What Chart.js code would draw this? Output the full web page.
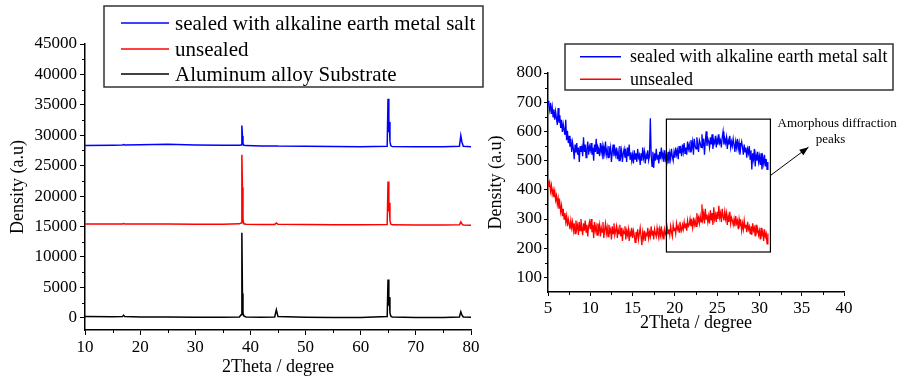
<!DOCTYPE html>
<html><head><meta charset="utf-8">
<script src="https://cdn.jsdelivr.net/npm/chart.js@4.4.1/dist/chart.umd.min.js"></script>
<style>
html,body{margin:0;padding:0;background:#fff;width:902px;height:382px;overflow:hidden}
#c1{position:absolute;left:0;top:0}
#c2{position:absolute;left:485px;top:0}
</style></head><body>
<canvas id="c1" width="485" height="382"></canvas>
<canvas id="c2" width="417" height="382"></canvas>
<script>
// ---------- DATA ----------
const leftLabels = ['sealed with alkaline earth metal salt', 'unsealed', 'Aluminum alloy Substrate'];
const leftX = [10, 15, 16.8, 17, 17.2, 20, 25, 30, 35, 38.0, 38.3, 38.45, 38.55, 38.65, 38.8, 39.2, 42, 44.4, 44.7, 45.0, 50, 55, 60, 64.8, 64.95, 65.1, 65.2, 65.3, 65.45, 65.7, 70, 75, 77.9, 78.15, 78.35, 78.6, 80];
const leftSealed = [28300, 28350, 28400, 28460, 28400, 28450, 28520, 28420, 28350, 28350, 28400, 31600, 29900, 28700, 28350, 28300, 28250, 28220, 28250, 28220, 28180, 28150, 28130, 28200, 36000, 30500, 32200, 29000, 28300, 28150, 28130, 28130, 28200, 29950, 28900, 28200, 28130];
const leftUnsealed = [15440, 15430, 15420, 15480, 15420, 15410, 15420, 15390, 15360, 15450, 15600, 26800, 21400, 16200, 15450, 15380, 15340, 15350, 15600, 15360, 15320, 15300, 15280, 15350, 22400, 17500, 18900, 16000, 15400, 15280, 15260, 15250, 15300, 15770, 15450, 15250, 15220];
const leftSubstrate = [220, 180, 200, 440, 200, 150, 120, 110, 100, 150, 500, 14000, 4000, 800, 300, 150, 100, 150, 1320, 200, 100, 60, 50, 200, 6300, 2000, 3400, 800, 300, 150, 60, 60, 150, 990, 500, 150, 100];
const leftXTicks = [10, 20, 30, 40, 50, 60, 70, 80];
const leftXMinor = [15, 25, 35, 45, 55, 65, 75];
const leftYTicks = [0, 5000, 10000, 15000, 20000, 25000, 30000, 35000, 40000, 45000];
const leftYMinor = [2500, 7500, 12500, 17500, 22500, 27500, 32500, 37500, 42500];

const rightLabels = ['sealed with alkaline earth metal salt', 'unsealed'];
const rightStart = 5.0, rightStep = 0.1;   // sampling of the 2Theta axis
const rightSealed = [
  705, 690, 672, 698, 660, 684, 650, 676, 640, 668,
  645, 622, 680, 630, 655, 612, 640, 598, 625, 605,
  588, 640, 570, 602, 560, 585, 548, 575, 530, 562,
  540, 505, 555, 528, 560, 520, 545, 495, 550, 530,
  545, 515, 580, 530, 555, 510, 540, 565, 520, 548,
  535, 560, 520, 545, 500, 555, 530, 575, 525, 548,
  540, 515, 560, 530, 550, 505, 545, 525, 565, 520,
  538, 510, 550, 525, 545, 495, 530, 555, 515, 540,
  520, 545, 505, 530, 500, 550, 515, 535, 495, 525,
  540, 510, 530, 495, 545, 515, 555, 505, 528, 500,
  520, 490, 535, 505, 525, 495, 540, 510, 520, 485,
  525, 500, 545, 510, 530, 490, 520, 505, 535, 500,
  515, 645, 520, 480, 530, 475, 525, 500, 540, 505,
  520, 490, 530, 505, 545, 510, 525, 495, 535, 505,
  520, 500, 530, 490, 525, 505, 540, 515, 500, 530,
  510, 545, 520, 535, 505, 550, 525, 540, 515, 555,
  530, 560, 525, 545, 520, 565, 540, 555, 530, 570,
  545, 565, 520, 575, 550, 540, 580, 555, 530, 570,
  560, 545, 590, 555, 575, 520, 565, 600, 550, 575,
  565, 545, 580, 555, 590, 540, 570, 560, 585, 545,
  575, 555, 590, 560, 570, 545, 580, 600, 555, 575,
  560, 580, 540, 570, 555, 585, 545, 565, 550, 575,
  555, 530, 565, 545, 575, 540, 560, 520, 550, 565,
  545, 520, 555, 530, 545, 510, 540, 525, 550, 505,
  535, 470, 525, 505, 540, 480, 520, 500, 530, 495,
  515, 485, 525, 470, 510, 490, 520, 480, 505, 470,
  495
];
const rightUnsealed = [
  430, 410, 425, 395, 415, 385, 400, 375, 395, 365,
  380, 350, 370, 335, 355, 325, 345, 310, 335, 300,
  320, 290, 310, 275, 300, 285, 265, 295, 270, 290,
  260, 285, 250, 295, 265, 280, 245, 290, 260, 300,
  270, 245, 285, 260, 295, 255, 280, 240, 275, 290,
  265, 300, 255, 280, 235, 290, 260, 275, 245, 285,
  260, 280, 240, 270, 255, 290, 235, 265, 285, 250,
  270, 240, 280, 255, 265, 230, 275, 250, 285, 245,
  260, 275, 235, 265, 250, 280, 240, 270, 225, 260,
  250, 275, 230, 260, 245, 265, 225, 255, 240, 270,
  235, 260, 245, 220, 255, 240, 265, 230, 250, 270,
  240, 210, 255, 235, 260, 225, 250, 245, 270, 235,
  255, 240, 275, 245, 260, 230, 265, 250, 240, 270,
  250, 235, 265, 245, 275, 240, 255, 230, 265, 250,
  240, 270, 250, 265, 245, 275, 255, 240, 280, 260,
  270, 250, 285, 265, 275, 255, 290, 270, 260, 280,
  265, 290, 270, 285, 260, 295, 275, 280, 300, 275,
  290, 270, 305, 280, 295, 275, 320, 290, 305, 285,
  310, 290, 350, 300, 320, 285, 335, 300, 315, 290,
  310, 285, 330, 295, 320, 280, 340, 300, 315, 290,
  325, 300, 345, 305, 320, 290, 335, 310, 295, 325,
  300, 320, 280, 310, 290, 325, 285, 305, 295, 280,
  300, 275, 310, 285, 295, 265, 300, 280, 290, 260,
  285, 265, 295, 270, 280, 255, 290, 265, 275, 250,
  275, 245, 285, 260, 270, 240, 280, 255, 265, 245,
  260, 230, 270, 245, 255, 225, 265, 240, 250, 215,
  250
];
const rightXTicks = [5, 10, 15, 20, 25, 30, 35, 40];
const rightXMinor = [7.5, 12.5, 17.5, 22.5, 27.5, 32.5, 37.5];
const rightYTicks = [100, 200, 300, 400, 500, 600, 700, 800];
const rightYMinor = [150, 250, 350, 450, 550, 650, 750];
const annotationLines = ['Amorphous diffraction', 'peaks'];

// ---------- RENDER ----------
const FAMILY = '"Liberation Serif", "Times New Roman", serif';
Chart.defaults.font.family = FAMILY;
Chart.defaults.color = '#000';

const minorTicks = {
  id: 'minorTicks',
  afterDraw(chart, args, o) {
    const ctx = chart.ctx, xs = chart.scales.x, ys = chart.scales.y;
    ctx.save(); ctx.strokeStyle = '#000'; ctx.lineWidth = 1;
    ctx.beginPath();
    o.x.forEach(v => { const p = Math.round(xs.getPixelForValue(v)) + 0.5; ctx.moveTo(p, xs.top); ctx.lineTo(p, xs.top + o.len); });
    o.y.forEach(v => { const p = Math.round(ys.getPixelForValue(v)) + 0.5; ctx.moveTo(ys.right, p); ctx.lineTo(ys.right - o.len, p); });
    ctx.stroke(); ctx.restore();
  }
};

const boxLegend = {
  id: 'boxLegend',
  afterDraw(chart, args, o) {
    const ctx = chart.ctx;
    ctx.save();
    ctx.fillStyle = '#fff'; ctx.fillRect(o.x, o.y, o.w, o.h);
    ctx.strokeStyle = '#333'; ctx.lineWidth = 1.5; ctx.strokeRect(o.x, o.y, o.w, o.h);
    ctx.font = o.font; ctx.textBaseline = 'middle'; ctx.textAlign = 'left';
    chart.data.datasets.forEach((ds, i) => {
      const y = o.rowY[i];
      ctx.strokeStyle = ds.borderColor; ctx.lineWidth = 1.5;
      ctx.beginPath(); ctx.moveTo(o.sx1, y); ctx.lineTo(o.sx2, y); ctx.stroke();
      ctx.fillStyle = '#000'; ctx.fillText(ds.label, o.tx, y + 1);
    });
    ctx.restore();
  }
};

const annotBox = {
  id: 'annotBox',
  afterDraw(chart, args, o) {
    const ctx = chart.ctx, xs = chart.scales.x, ys = chart.scales.y;
    const X = v => xs.getPixelForValue(v), Y = v => ys.getPixelForValue(v);
    ctx.save();
    ctx.strokeStyle = '#000'; ctx.lineWidth = 1.2;
    ctx.strokeRect(X(o.x1), Y(o.y2), X(o.x2) - X(o.x1), Y(o.y1) - Y(o.y2));
    const ax1 = X(o.ax1), ay1 = Y(o.ay1), ax2 = X(o.ax2), ay2 = Y(o.ay2);
    ctx.lineWidth = 1;
    ctx.beginPath(); ctx.moveTo(ax1, ay1); ctx.lineTo(ax2, ay2); ctx.stroke();
    const ang = Math.atan2(ay2 - ay1, ax2 - ax1), L = 9, W = 3.5;
    ctx.fillStyle = '#000';
    ctx.beginPath();
    ctx.moveTo(ax2, ay2);
    ctx.lineTo(ax2 - L * Math.cos(ang) + W * Math.sin(ang), ay2 - L * Math.sin(ang) - W * Math.cos(ang));
    ctx.lineTo(ax2 - L * Math.cos(ang) - W * Math.sin(ang), ay2 - L * Math.sin(ang) + W * Math.cos(ang));
    ctx.closePath(); ctx.fill();
    ctx.font = o.font; ctx.textAlign = 'center'; ctx.textBaseline = 'middle';
    o.lines.forEach((t, i) => ctx.fillText(t, X(o.tx[i]), Y(o.ty[i])));
    ctx.restore();
  }
};

function axis(min, max, ticks, sizeProp, size, title, titlePad, tl, tpad) {
  return {
    type: 'linear', min, max,
    afterBuildTicks: s => { s.ticks = ticks.map(v => ({ value: v })); },
    afterFit: s => { s[sizeProp] = size; },
    grid: { drawOnChartArea: false, drawTicks: true, tickLength: tl, tickColor: '#000', tickWidth: 1 },
    border: { display: true, color: '#000', width: 1.5 },
    ticks: { color: '#000', font: { family: FAMILY, size: 17 }, padding: tpad, maxRotation: 0, autoSkip: false,
             callback: v => String(v) },
    title: { display: true, text: title, color: '#000', font: { family: FAMILY, size: 18, lineHeight: 1.2 }, padding: titlePad }
  };
}

const pts = (xs, ys) => xs.map((x, i) => ({ x, y: ys[i] }));
const rightPts = ys => ys.map((y, i) => ({ x: +(rightStart + i * rightStep).toFixed(2), y }));

new Chart(document.getElementById('c1'), {
  type: 'line',
  data: { datasets: [
    { label: leftLabels[0], data: pts(leftX, leftSealed), borderColor: '#0000ff', borderWidth: 1.5, pointRadius: 0 },
    { label: leftLabels[1], data: pts(leftX, leftUnsealed), borderColor: '#ff0000', borderWidth: 1.5, pointRadius: 0 },
    { label: leftLabels[2], data: pts(leftX, leftSubstrate), borderColor: '#000000', borderWidth: 1.5, pointRadius: 0 }
  ]},
  options: {
    responsive: false, animation: false, events: [],
    layout: { padding: { top: 44, right: 14, left: 0, bottom: 0 } },
    plugins: {
      legend: { display: false }, tooltip: { enabled: false },
      minorTicks: { x: leftXMinor, y: leftYMinor, len: 3 },
      boxLegend: { x: 104, y: 6, w: 379, h: 81, rowY: [23, 49, 74], sx1: 121, sx2: 169, tx: 175, font: '21px "Liberation Serif"' }
    },
    scales: {
      x: axis(10, 80, leftXTicks, 'height', 52, '2Theta / degree', { bottom: 4 }, 5, 2),
      y: axis(-2000, 45000, leftYTicks, 'width', 85, 'Density (a.u)', { top: 7 }, 5, 3)
    }
  },
  plugins: [minorTicks, boxLegend]
});

new Chart(document.getElementById('c2'), {
  type: 'line',
  data: { datasets: [
    { label: rightLabels[0], data: rightPts(rightSealed), borderColor: '#0000ff', borderWidth: 1.3, pointRadius: 0 },
    { label: rightLabels[1], data: rightPts(rightUnsealed), borderColor: '#ff0000', borderWidth: 1.3, pointRadius: 0 }
  ]},
  options: {
    responsive: false, animation: false, events: [],
    layout: { padding: { top: 73, right: 58, left: 0, bottom: 0 } },
    plugins: {
      legend: { display: false }, tooltip: { enabled: false },
      minorTicks: { x: rightXMinor, y: rightYMinor, len: 3 },
      boxLegend: { x: 80, y: 44, w: 328, h: 46, rowY: [56.7, 79.3], sx1: 95, sx2: 136, tx: 145, font: '18px "Liberation Serif"' },
      annotBox: { x1: 19, x2: 31.3, y1: 187, y2: 642, ax1: 31.3, ay1: 449, ax2: 35.8, ay2: 546,
                  lines: annotationLines, tx: [39.2, 38.4], ty: [626, 571], font: '13px "Liberation Serif"' }
    },
    scales: {
      x: axis(5, 40, rightXTicks, 'height', 90, '2Theta / degree', { bottom: 48 }, 4, 2),
      y: axis(50, 800, rightYTicks, 'width', 63, 'Density (a.u)', { top: 0 }, 4, 2)
    }
  },
  plugins: [minorTicks, boxLegend, annotBox]
});
</script>
</body></html>
